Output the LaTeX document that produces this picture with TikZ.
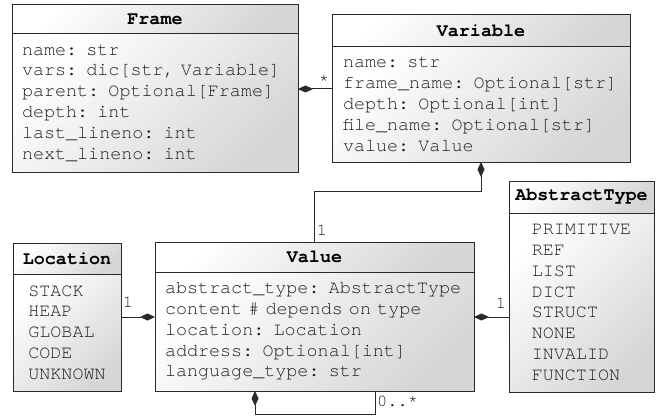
\documentclass[tikz,border=0pt]{standalone}
\usepackage{fontspec}
\setmonofont{TeX Gyre Cursor}
\usetikzlibrary{arrows.meta,positioning}

\definecolor{umlline}{HTML}{2A2A2A}
\definecolor{umltext}{HTML}{1E1E1E}
\definecolor{umlshade}{HTML}{D6D6D6}

\tikzset{
  umlbox/.style={draw=umlline, line width=1pt, top color=white, bottom color=umlshade,
    shading angle=45, inner sep=0pt, outer sep=0pt},
  umltitle/.style={umlbox, anchor=north west, minimum height=30pt, text=black,
    font=\ttfamily\bfseries\fontsize{18.4}{20.8}\selectfont},
  umlbody/.style={umlbox, anchor=north, align=left, text=umltext,
    font=\ttfamily\fontsize{18.4}{20.8}\selectfont},
  comp/.style={{Diamond[length=15pt,width=7pt]}-, draw=umlline, line width=1pt},
  mult/.style={anchor=base, inner sep=0pt, text=umltext, font=\ttfamily\fontsize{17}{17}\selectfont}
}

\begin{document}
\begin{tikzpicture}[x=1pt,y=-1pt]
  \useasboundingbox (0,0) rectangle (663,417);

  % classes
  \node[umltitle, minimum width=286pt, minimum height=29pt] (frame) at (12,5) {Frame};
  \node[umlbody, minimum width=286pt, minimum height=138pt, text width=266pt] (frame-body) at (frame.south)
    {name: str\\vars: dic[str, Variable]\\parent: Optional[Frame]\\depth: int\\last\_lineno: int\\next\_lineno: int};

  \node[umltitle, minimum width=298pt, minimum height=32pt] (var) at (332,15) {Variable};
  \node[umlbody, minimum width=298pt, minimum height=115pt, text width=276pt] (var-body) at (var.south)
    {name: str\\frame\_name: Optional[str]\\depth: Optional[int]\\file\_name: Optional[str]\\value: Value};

  \node[umltitle, minimum width=319pt] (value) at (155,242) {Value};
  \node[umlbody, minimum width=319pt, minimum height=119pt, text width=299pt] (value-body) at (value.south)
    {abstract\_type: AbstractType\\content \# depends on type\\location: Location\\address: Optional[int]\\language\_type: str};

  % enums
  \node[umltitle, minimum width=108pt, minimum height=31pt] (loc) at (13,243) {Location};
  \node[umlbody, minimum width=108pt, minimum height=117pt] (loc-body) at (loc.south)
    {STACK\\HEAP\\GLOBAL\\CODE\\UNKNOWN};

  \node[umltitle, minimum width=145pt, minimum height=32pt] (type) at (509,181) {AbstractType};
  \node[umlbody, minimum width=145pt, minimum height=179pt] (type-body) at (type.south)
    {PRIMITIVE\\REF\\LIST\\DICT\\STRUCT\\NONE\\INVALID\\FUNCTION};

  % associations
  \coordinate (fv) at (0,89);
  \coordinate (lv) at (0,317);
  \draw[comp] (frame-body.east |- fv) -- (var-body.west |- fv);
  \draw[comp] (var-body.south) -- ++(0,29) -| (value.north);
  \draw[comp] (value-body.west |- lv) -- (loc-body.east |- lv);
  \draw[comp] (value-body.east |- lv) -- (type-body.west |- lv);
  \draw[comp] ([xshift=-59.5pt]value-body.south) -- ++(0,23) -| ([xshift=60.5pt]value-body.south);

  % multiplicities
  \node[mult] (m-fv) at (324,86) {*};
  \node[mult] (m-vv) at (322,235) {1};
  \node[mult] (m-lv) at (128,307) {1};
  \node[mult] (m-tv) at (501,308) {1};
  \node[mult, anchor=base west] (m-self) at (377,406) {0..*};
\end{tikzpicture}
\end{document}
